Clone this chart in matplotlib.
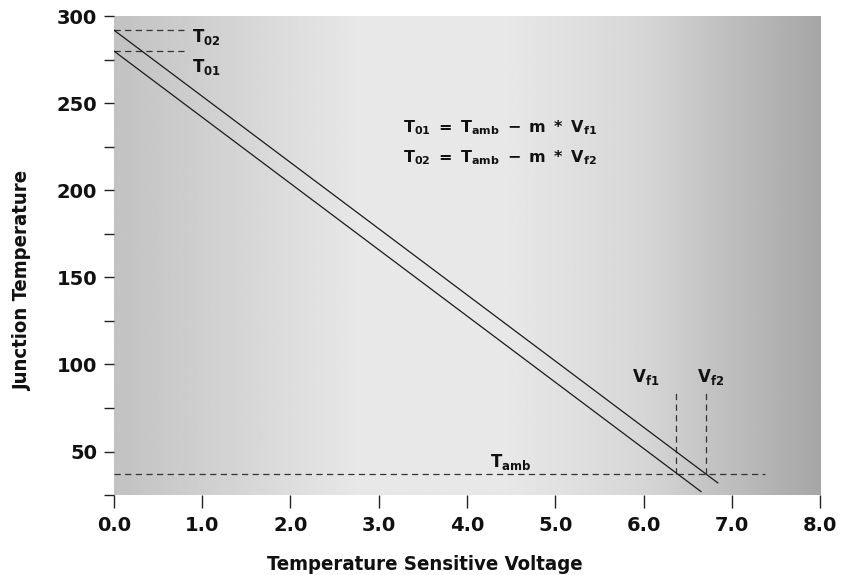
import numpy as np
import matplotlib
matplotlib.use("Agg")
import matplotlib.pyplot as plt
from matplotlib.ticker import MultipleLocator, FormatStrFormatter

plt.rcParams['mathtext.fontset'] = 'dejavusans'
plt.rcParams['mathtext.default'] = 'bf'

# ---- data ----
line1_x = [0.0, 6.65]      # T01 line
line1_y = [280.0, 27.0]
line2_x = [0.0, 6.84]      # T02 line
line2_y = [292.0, 32.0]
T01 = 280.0
T02 = 292.0
T_amb = 37.0
Vf1 = 6.37
Vf2 = 6.71
tamb_x = [0.0, 7.37]
t0_dash_x = [0.0, 0.84]
vf_dash_top = 86.0
x_ticks = [0.0, 1.0, 2.0, 3.0, 4.0, 5.0, 6.0, 7.0, 8.0]
y_ticks = [50, 100, 150, 200, 250, 300]

fig = plt.figure(figsize=(8.43, 5.75), dpi=100)
ax = fig.add_axes([0.135, 0.139, 0.838, 0.833])
ax.set_xlim(0, 8)
ax.set_ylim(25, 300)

# scanned-paper grey gradient background
pos = np.array([0.0, 0.12, 0.35, 0.55, 0.75, 0.88, 1.0])
val = np.array([0.76, 0.81, 0.91, 0.91, 0.84, 0.74, 0.65])
gx = np.linspace(0, 1, 400)
g = np.interp(gx, pos, val)
img = np.tile(g, (50, 1))
ax.imshow(img, cmap='gray', vmin=0, vmax=1, extent=[0, 8, 25, 300],
          aspect='auto', zorder=0, interpolation='bilinear')

lc = '#1a1a1a'
dc = '#333333'
ax.plot(line1_x, line1_y, color=lc, lw=0.9, zorder=3)
ax.plot(line2_x, line2_y, color=lc, lw=0.9, zorder=3)

dash = (0, (5, 3.5))
ax.plot(tamb_x, [T_amb, T_amb], color=dc, lw=0.9, linestyle=dash, zorder=2)
ax.plot(t0_dash_x, [T02, T02], color=dc, lw=0.9, linestyle=dash, zorder=2)
ax.plot(t0_dash_x, [T01, T01], color=dc, lw=0.9, linestyle=dash, zorder=2)
ax.plot([Vf1, Vf1], [T_amb, vf_dash_top], color=dc, lw=0.9, linestyle=dash, zorder=2)
ax.plot([Vf2, Vf2], [T_amb, vf_dash_top], color=dc, lw=0.9, linestyle=dash, zorder=2)

tk = dict(color='#111111', fontsize=12, zorder=5)
ax.text(0.88, 288, r'$T_{02}$', ha='left', va='center', **tk)
ax.text(0.88, 271, r'$T_{01}$', ha='left', va='center', **tk)
ax.text(4.5, 44, r'$T_{amb}$', ha='center', va='center', **tk)
ax.text(6.02, 93, r'$V_{f1}$', ha='center', va='center', **tk)
ax.text(6.76, 93, r'$V_{f2}$', ha='center', va='center', **tk)
eq = dict(color='#111111', fontsize=11.5, zorder=5)
ax.text(3.27, 236, r'$T_{01}\ =\ T_{amb}\ -\ m\ *\ V_{f1}$', ha='left', va='center', **eq)
ax.text(3.27, 219, r'$T_{02}\ =\ T_{amb}\ -\ m\ *\ V_{f2}$', ha='left', va='center', **eq)

for s in ax.spines.values():
    s.set_visible(False)

ax.set_xticks(x_ticks)
ax.xaxis.set_major_formatter(FormatStrFormatter('%.1f'))
ax.set_yticks(y_ticks)
ax.yaxis.set_minor_locator(MultipleLocator(25))
ax.tick_params(axis='both', which='both', direction='out', color='#222222', width=1.0)
ax.tick_params(axis='x', which='major', length=9, pad=6)
ax.tick_params(axis='y', which='both', length=7, pad=5)

fp = dict(family='DejaVu Sans', weight='bold', stretch='condensed')
for lab in ax.get_xticklabels() + ax.get_yticklabels():
    lab.set_fontsize(14)
    lab.set_fontweight('bold')
    lab.set_color('#111111')

ax.set_xlabel('Temperature Sensitive Voltage', fontsize=14.6, color='#111111', **fp)
ax.set_ylabel('Junction Temperature', fontsize=14.6, color='#111111', **fp)
ax.xaxis.set_label_coords(0.44, -0.125)
ax.yaxis.set_label_coords(-0.116, 0.447)

fig.savefig('out.png', dpi=100)
